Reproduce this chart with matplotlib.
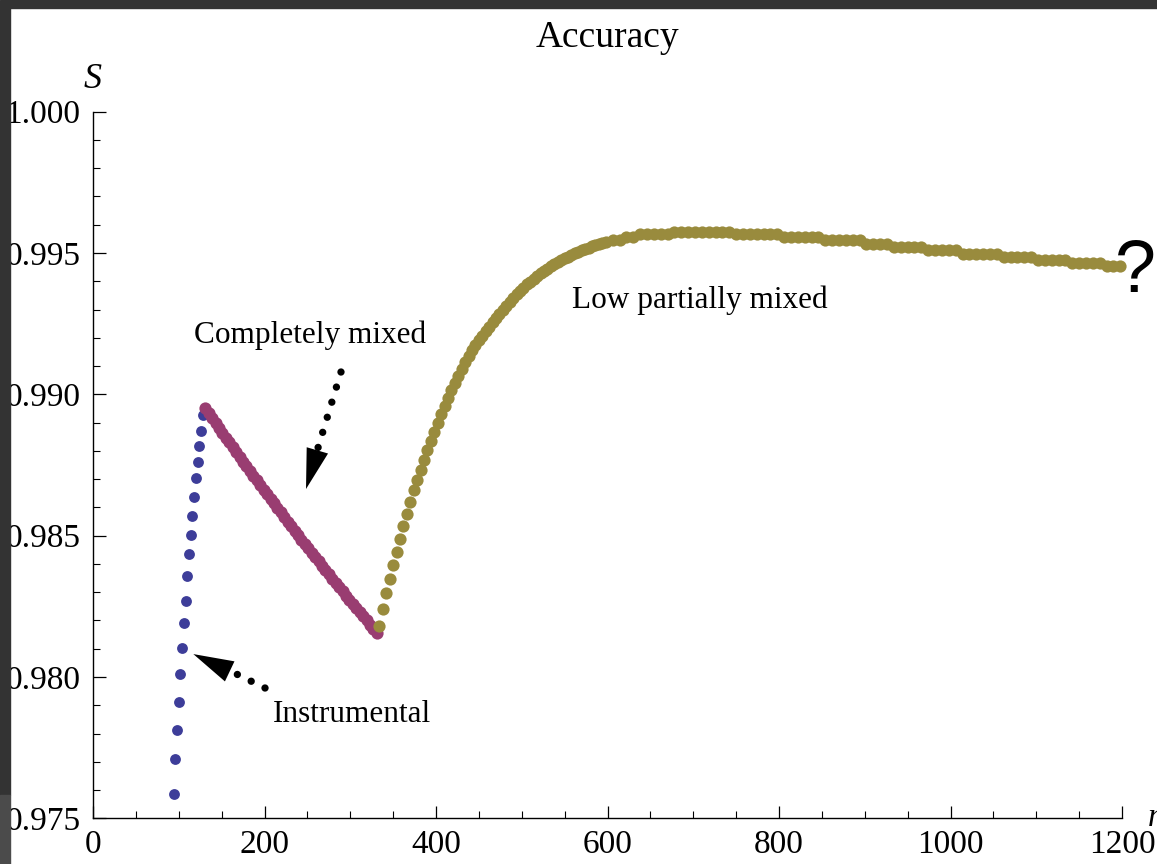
import matplotlib
matplotlib.use("Agg")
import matplotlib.pyplot as plt
from matplotlib.patches import Rectangle
from matplotlib.ticker import MultipleLocator, FormatStrFormatter

# ---------------- data ----------------
instr_n = [94, 96, 98, 100, 102, 104, 106, 108, 110, 112, 114, 116, 118, 120, 122, 124, 126, 128]
instr_S = [0.97587, 0.97711, 0.97812, 0.97912, 0.98012, 0.98102, 0.98192, 0.98269, 0.98358,
           0.98436, 0.98503, 0.98570, 0.98638, 0.98704, 0.98761, 0.98816, 0.98871, 0.98927]

mixed_n = [131, 135, 139, 143, 147, 151, 155, 159, 163, 167, 171, 175, 179, 183, 187, 191, 195,
           199, 203, 207, 211, 215, 219, 223, 227, 231, 235, 239, 243, 247, 251, 255, 259, 263,
           267, 271, 275, 279, 283, 287, 291, 295, 299, 303, 307, 311, 315, 319, 323, 327, 331]
mixed_S = [0.98951, 0.98934, 0.98916, 0.98899, 0.98882, 0.98864, 0.98847, 0.98830, 0.98813,
           0.98796, 0.98779, 0.98762, 0.98746, 0.98729, 0.98712, 0.98696, 0.98679, 0.98663,
           0.98647, 0.98630, 0.98614, 0.98598, 0.98582, 0.98566, 0.98550, 0.98534, 0.98518,
           0.98502, 0.98486, 0.98471, 0.98455, 0.98440, 0.98424, 0.98409, 0.98393, 0.98378,
           0.98363, 0.98348, 0.98333, 0.98318, 0.98303, 0.98288, 0.98273, 0.98258, 0.98243,
           0.98229, 0.98214, 0.98200, 0.98185, 0.98171, 0.98157]

low_n = [334, 338, 342, 346, 350, 354, 358, 362, 366, 370, 374, 378, 382, 386, 390, 394, 398,
         402, 406, 410, 414, 418, 422, 426, 430, 434, 438, 442, 446, 450, 454, 458, 462, 466,
         470, 474, 478, 482, 486, 490, 494, 498, 502, 506, 510, 514, 518, 522, 526, 530, 534,
         538, 542, 546, 550, 554, 558, 562, 566, 570, 574, 578, 582, 586, 590, 594, 598,
         606, 614, 622, 630, 638, 646, 654, 662, 670, 678, 686, 694, 702, 710, 718, 726, 734,
         742, 750, 758, 766, 774, 782, 790, 798, 806, 814, 822, 830, 838, 846, 854, 862, 870,
         878, 886, 894, 902, 910, 918, 926, 934, 942, 950, 958, 966, 974, 982, 990, 998, 1006,
         1014, 1022, 1030, 1038, 1046, 1054, 1062, 1070, 1078, 1086, 1094, 1102, 1110, 1118,
         1126, 1134, 1142, 1150, 1158, 1166, 1174, 1182, 1190, 1198]
low_S = [0.98182, 0.98240, 0.98297, 0.98346, 0.98395, 0.98442, 0.98488, 0.98533, 0.98576,
         0.98618, 0.98660, 0.98697, 0.98732, 0.98768, 0.98802, 0.98836, 0.98868, 0.98899,
         0.98930, 0.98959, 0.98987, 0.99014, 0.99040, 0.99065, 0.99090, 0.99113, 0.99134,
         0.99156, 0.99174, 0.99191, 0.99208, 0.99224, 0.99240, 0.99256, 0.99271, 0.99286,
         0.99300, 0.99314, 0.99328, 0.99341, 0.99354, 0.99366, 0.99378, 0.99389, 0.99399,
         0.99409, 0.99419, 0.99428, 0.99437, 0.99445, 0.99453, 0.99461, 0.99468, 0.99475,
         0.99481, 0.99487, 0.99493, 0.99499, 0.99504, 0.99509, 0.99514, 0.99519, 0.99524,
         0.99528, 0.99532, 0.99536, 0.99540,
         0.99547, 0.99547, 0.99555, 0.99555, 0.99567, 0.99567, 0.99567, 0.99567, 0.99567,
         0.99576, 0.99576, 0.99576, 0.99576, 0.99576, 0.99576, 0.99576, 0.99576, 0.99576,
         0.99567, 0.99567, 0.99567, 0.99567, 0.99567, 0.99567, 0.99567,
         0.99555, 0.99555, 0.99555, 0.99555, 0.99555, 0.99555,
         0.99546, 0.99546, 0.99546, 0.99546, 0.99546, 0.99546,
         0.99533, 0.99533, 0.99533, 0.99533,
         0.99520, 0.99520, 0.99520, 0.99520, 0.99520,
         0.99510, 0.99510, 0.99510, 0.99510, 0.99510,
         0.99498, 0.99498, 0.99498, 0.99498, 0.99498, 0.99498,
         0.99487, 0.99487, 0.99487, 0.99487, 0.99487,
         0.99475, 0.99475, 0.99475, 0.99475, 0.99475,
         0.99464, 0.99464, 0.99464, 0.99464, 0.99464,
         0.99454, 0.99454, 0.99454]

x_ticks = [0, 200, 400, 600, 800, 1000, 1200]
y_ticks = [0.975, 0.980, 0.985, 0.990, 0.995, 1.000]

C_BLUE = "#3d3d99"
C_MAG = "#993d71"
C_OLIVE = "#998b3d"

W, H = 1157, 864
SERIF = ["Liberation Serif", "DejaVu Serif"]

fig = plt.figure(figsize=(W / 100, H / 100), dpi=100)
fig.patch.set_facecolor("white")


def fx(px):
    return px / W


def fy(py):
    return 1 - py / H


# dark frame of the screenshot
fig.patches.append(Rectangle((0, fy(8)), 1, 8 / H, transform=fig.transFigure,
                             color="#333333", zorder=0))
fig.patches.append(Rectangle((0, fy(795)), 10 / W, (795 - 8) / H, transform=fig.transFigure,
                             color="#333333", zorder=0))
fig.patches.append(Rectangle((0, 0), 10 / W, 69 / H, transform=fig.transFigure,
                             color="#4b4b4b", zorder=0))

ax = fig.add_axes([fx(93), fy(818.3), 1029 / W, 706.6 / H])
ax.set_facecolor("none")
ax.set_xlim(0, 1200)
ax.set_ylim(0.975, 1.000)

ax.plot(instr_n, instr_S, "o", ms=7.8, color=C_BLUE, mec="none", clip_on=False, zorder=3)
ax.plot(mixed_n, mixed_S, "o", ms=8.8, color=C_MAG, mec="none", clip_on=False, zorder=4)
ax.plot(low_n, low_S, "o", ms=8.8, color=C_OLIVE, mec="none", clip_on=False, zorder=5)

# spines / ticks
for s in ("top", "right"):
    ax.spines[s].set_visible(False)
for s in ("left", "bottom"):
    ax.spines[s].set_linewidth(1.0)
ax.set_xticks(x_ticks)
ax.set_yticks(y_ticks)
ax.xaxis.set_minor_locator(MultipleLocator(50))
ax.yaxis.set_minor_locator(MultipleLocator(0.001))
ax.yaxis.set_major_formatter(FormatStrFormatter("%.3f"))
ax.tick_params(which="major", direction="in", length=9, width=0.9, labelsize=24)
ax.tick_params(which="minor", direction="in", length=5, width=0.8)
ax.tick_params(axis="x", which="major", pad=8)
ax.tick_params(axis="y", which="major", pad=9)
for lab in ax.get_xticklabels() + ax.get_yticklabels():
    lab.set_fontfamily(SERIF)

# titles / axis labels
fig.text(fx(607.5), fy(47), "Accuracy", ha="center", va="baseline", fontsize=27,
         family=SERIF)
fig.text(fx(93), fy(88), "S", ha="center", va="baseline", fontsize=26, family=SERIF,
         style="italic")
fig.text(fx(1148), fy(826), "n", ha="left", va="baseline", fontsize=24, family=SERIF,
         style="italic")
fig.text(fx(1115), fy(292), "?", ha="left", va="baseline", fontsize=53,
         family=["Liberation Sans", "DejaVu Sans"])

# region labels (positions in data units)
ax.text(253, 0.9918, "Completely mixed", ha="center", va="baseline", fontsize=22.5,
        family=SERIF)
ax.text(708, 0.99307, "Low partially mixed", ha="center", va="baseline", fontsize=22.5,
        family=SERIF)
ax.text(302, 0.97840, "Instrumental", ha="center", va="baseline", fontsize=22.5,
        family=SERIF)


# dotted arrows
def dotted_arrow(tail, last_dot, base, tip, off):
    ax.plot([tail[0], last_dot[0]], [tail[1], last_dot[1]], color="black", lw=5.3,
            dashes=(0.001, off), dash_capstyle="round", solid_capstyle="round", zorder=6)
    ax.annotate("", xy=tip, xytext=base,
                arrowprops=dict(arrowstyle="-|>,head_length=1.45,head_width=0.4",
                                mutation_scale=20, color="black", lw=0,
                                shrinkA=0, shrinkB=0), zorder=6)


dotted_arrow((289.2, 0.99079), (262.4, 0.98811), (260.9, 0.98794), (248.4, 0.98665), 2.14)
dotted_arrow((200.6, 0.97961), (167.6, 0.98010), (158.6, 0.98021), (117.0, 0.98081), 2.09)

fig.savefig("out.png", dpi=100)
